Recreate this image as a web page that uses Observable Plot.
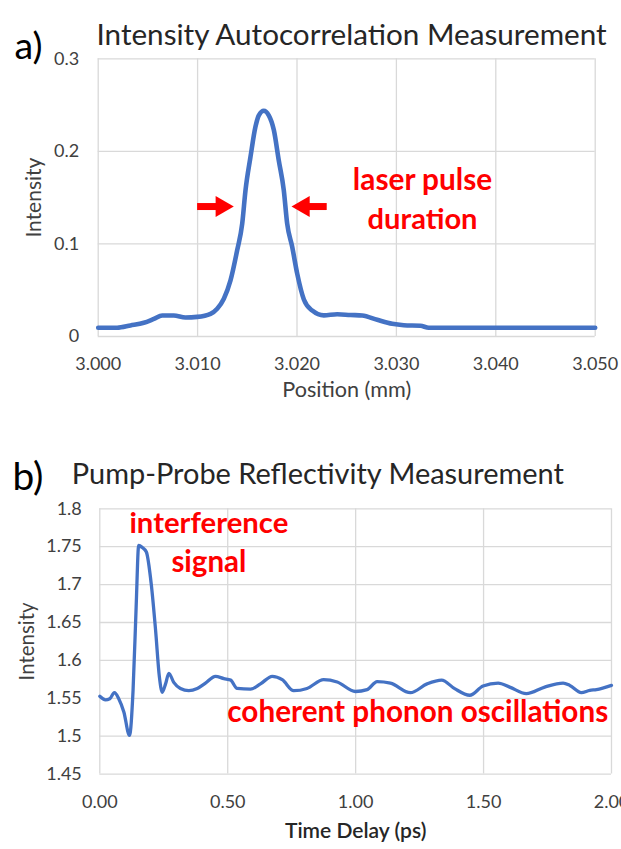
<!DOCTYPE html>
<html>
<head>
<meta charset="utf-8">
<script src="https://cdn.jsdelivr.net/npm/d3@7"></script>
<script src="https://cdn.jsdelivr.net/npm/@observablehq/plot@0.6"></script>
<style>
  html, body { margin: 0; padding: 0; background: #fff; }
  #wrap { position: relative; width: 621px; height: 849px; overflow: hidden; background: #fff; }
  #wrap svg { position: absolute; left: 0; }
</style>
</head>
<body>
<div id="wrap"></div>
<script>
// ---------- Panel a: intensity autocorrelation ----------
const titleA = "Intensity Autocorrelation Measurement";
const panelA = "a)";
const xLabelA = "Position (mm)";
const yLabelA = "Intensity";
const xTicksA = [3.000, 3.010, 3.020, 3.030, 3.040, 3.050];
const yTicksA = [0, 0.1, 0.2, 0.3];
const positionA = [3.000, 3.0019, 3.00325, 3.00459, 3.0056, 3.00644, 3.0076, 3.00878, 3.00996, 3.0113,
  3.01197, 3.01264, 3.01331, 3.01398, 3.01449, 3.01482, 3.01532, 3.01582, 3.01616, 3.01666,
  3.01716, 3.01767, 3.01817, 3.01867, 3.01901, 3.01952, 3.02002, 3.02069, 3.02153, 3.0227,
  3.02404, 3.02538, 3.02656, 3.02807, 3.02958, 3.03074, 3.03242, 3.03326, 3.040, 3.050];
const intensityA = [0.0094, 0.0094, 0.0119, 0.0148, 0.019, 0.0227, 0.0227, 0.0206, 0.0212, 0.0245,
  0.030, 0.0408, 0.0606, 0.0931, 0.122, 0.158, 0.194, 0.2265, 0.239, 0.2438,
  0.239, 0.223, 0.190, 0.158, 0.122, 0.0967, 0.0679, 0.040, 0.028, 0.0228,
  0.024, 0.0232, 0.0227, 0.018, 0.0137, 0.0122, 0.0116, 0.0094, 0.0094, 0.0094];
const notesA = [
  {text: "laser pulse", x: 3.03263, y: 0.1688, w: 140},
  {text: "duration", x: 3.03263, y: 0.1266, w: 110}
];
const arrowsA = [
  {tail: 3.0100, tip: 3.01364, y: 0.1404},
  {tail: 3.02304, tip: 3.01945, y: 0.1404}
];

// ---------- Panel b: pump-probe reflectivity ----------
const titleB = "Pump-Probe Reflectivity Measurement";
const panelB = "b)";
const xLabelB = "Time Delay (ps)";
const yLabelB = "Intensity";
const xTicksB = [0, 0.5, 1.0, 1.5, 2.0];
const yTicksB = [1.45, 1.5, 1.55, 1.6, 1.65, 1.7, 1.75, 1.8];
const delayB = [0, 0.022, 0.039, 0.057, 0.074, 0.094, 0.116, 0.130, 0.142, 0.152,
  0.166, 0.182, 0.201, 0.218, 0.233, 0.244, 0.257, 0.270, 0.289, 0.315,
  0.348, 0.381, 0.413, 0.452, 0.485, 0.511, 0.537, 0.589, 0.628, 0.674,
  0.713, 0.758, 0.810, 0.875, 0.928, 0.999, 1.045, 1.084, 1.136, 1.214,
  1.279, 1.336, 1.387, 1.446, 1.498, 1.557, 1.602, 1.667, 1.739, 1.811,
  1.837, 1.882, 1.915, 1.941, 2.0];
const intensityB = [1.5526, 1.548, 1.5495, 1.5575, 1.5495, 1.532, 1.501, 1.5605, 1.670, 1.7516,
  1.749, 1.743, 1.701, 1.640, 1.578, 1.558, 1.569, 1.583, 1.571, 1.563,
  1.560, 1.563, 1.570, 1.579, 1.576, 1.574, 1.563, 1.562, 1.569, 1.579,
  1.5746, 1.560, 1.563, 1.5746, 1.5715, 1.559, 1.5614, 1.572, 1.570, 1.5574,
  1.569, 1.574, 1.5627, 1.554, 1.5662, 1.570, 1.5648, 1.5561, 1.5648, 1.570,
  1.567, 1.5574, 1.5605, 1.5614, 1.567];
const notesB = [
  {text: "interference", x: 0.4263, y: 1.781, w: 159},
  {text: "signal", x: 0.4263, y: 1.7296, w: 75},
  {text: "coherent phonon oscillations", x: 1.2427, y: 1.5319, w: 381}
];

// ---------- helpers ----------
const FONT = "Lato, 'Open Sans', sans-serif";
const ctx = document.createElement("canvas").getContext("2d");
function fit(text, width, weight = 400) {
  ctx.font = `${weight} 100px ${FONT}`;
  return 100 * width / ctx.measureText(text).width;
}
const BLUE = "#4472C4", RED = "#FF0000", GRID = "#d9d9d9", INK = "#404040", TITLE = "#262626";
const id = d => d;

function gridMarks(xt, yt) {
  return [
    Plot.gridX(xt, {stroke: GRID, strokeOpacity: 1, strokeWidth: 1.3}),
    Plot.gridY(yt, {stroke: GRID, strokeOpacity: 1, strokeWidth: 1.3})
  ];
}

// ---------- chart a ----------
const dataA = positionA.map((x, i) => ({x, y: intensityA[i]}));
const arrowMarks = [];
for (const a of arrowsA) {
  const right = a.tip > a.tail;
  arrowMarks.push(Plot.ruleY([a], {
    y: "y", x1: d => Math.min(d.tail, d.tip), x2: d => Math.max(d.tail, d.tip),
    stroke: RED, strokeWidth: 7, strokeLinecap: "butt",
    insetRight: right ? 12 : 0, insetLeft: right ? 0 : 12
  }));
  arrowMarks.push(Plot.dot([a], {
    x: "tip", y: "y", symbol: "triangle", r: 7.8, rotate: right ? 90 : -90,
    dx: right ? -12.1 : 12.1, fill: RED, stroke: "none"
  }));
}

const chartA = Plot.plot({
  width: 621, height: 430,
  marginTop: 58.3, marginBottom: 94, marginLeft: 97.7, marginRight: 26.3,
  x: {domain: [3.000, 3.050]},
  y: {domain: [0, 0.3]},
  style: {fontFamily: FONT, fontSize: "18px", color: INK, background: "transparent", overflow: "visible"},
  marks: [
    ...gridMarks(xTicksA, yTicksA),
    Plot.axisX(xTicksA, {tickSize: 0, tickPadding: 21, tickFormat: d3.format(".3f"), label: null, fill: INK}),
    Plot.axisY(yTicksA, {tickSize: 0, tickPadding: 19, tickFormat: d => String(d), label: null, fill: INK}),
    Plot.line(dataA, {x: "x", y: "y", stroke: BLUE, strokeWidth: 4.6, curve: "monotone-x", strokeLinejoin: "round"}),
    ...arrowMarks,
    Plot.text(notesA, {x: "x", y: "y", text: "text", fill: RED, fontWeight: 700,
      fontSize: d => fit(d.text, d.w, 700), textAnchor: "middle"}),
    Plot.text([titleA], {text: id, frameAnchor: "top-left", dx: -1.7, dy: -35.3, textAnchor: "start",
      fill: TITLE, fontSize: fit(titleA, 512)}),
    Plot.text([panelA], {text: id, frameAnchor: "top-left", dx: -83.7, dy: -26, textAnchor: "start",
      fill: "#000", fontSize: fit(panelA, 28)}),
    Plot.text([yLabelA], {text: id, frameAnchor: "left", dx: -64, rotate: -90, textAnchor: "middle",
      fill: INK, fontSize: fit(yLabelA, 80)}),
    Plot.text([xLabelA], {text: id, frameAnchor: "bottom", dy: 60.7, textAnchor: "middle",
      fill: INK, fontSize: fit(xLabelA, 129)})
  ]
});
chartA.style.top = "0px";

// ---------- chart b ----------
const dataB = delayB.map((x, i) => ({x, y: intensityB[i]}));
const chartB = Plot.plot({
  width: 621, height: 419,
  marginTop: 78.3, marginBottom: 75.4, marginLeft: 99.3, marginRight: 10,
  x: {domain: [0, 2]},
  y: {domain: [1.45, 1.8]},
  style: {fontFamily: FONT, fontSize: "18px", color: INK, background: "transparent", overflow: "visible"},
  marks: [
    ...gridMarks(xTicksB, yTicksB),
    Plot.axisX(xTicksB, {tickSize: 0, tickPadding: 21.5, tickFormat: d3.format(".2f"), label: null, fill: INK}),
    Plot.axisY(yTicksB, {tickSize: 0, tickPadding: 18, tickFormat: d => String(d), label: null, fill: INK}),
    Plot.line(dataB, {x: "x", y: "y", stroke: BLUE, strokeWidth: 3.3, curve: "monotone-x", strokeLinejoin: "round"}),
    Plot.text(notesB, {x: "x", y: "y", text: "text", fill: RED, fontWeight: 700,
      fontSize: d => fit(d.text, d.w, 700), textAnchor: "middle"}),
    Plot.text([titleB], {text: id, frameAnchor: "top-left", dx: -28, dy: -45, textAnchor: "start",
      fill: TITLE, fontSize: fit(titleB, 493)}),
    Plot.text([panelB], {text: id, frameAnchor: "top-left", dx: -87.3, dy: -46.6, textAnchor: "start",
      fill: "#000", fontSize: fit(panelB, 31)}),
    Plot.text([yLabelB], {text: id, frameAnchor: "left", dx: -72.3, rotate: -90, textAnchor: "middle",
      fill: INK, fontSize: fit(yLabelB, 78)}),
    Plot.text([xLabelB], {text: id, frameAnchor: "bottom", dy: 63.4, textAnchor: "middle",
      fill: "#262626", fontWeight: 600, fontSize: fit(xLabelB, 142, 600)})
  ]
});
chartB.style.top = "430px";

const wrap = document.getElementById("wrap");
wrap.appendChild(chartA);
wrap.appendChild(chartB);
</script>
</body>
</html>
